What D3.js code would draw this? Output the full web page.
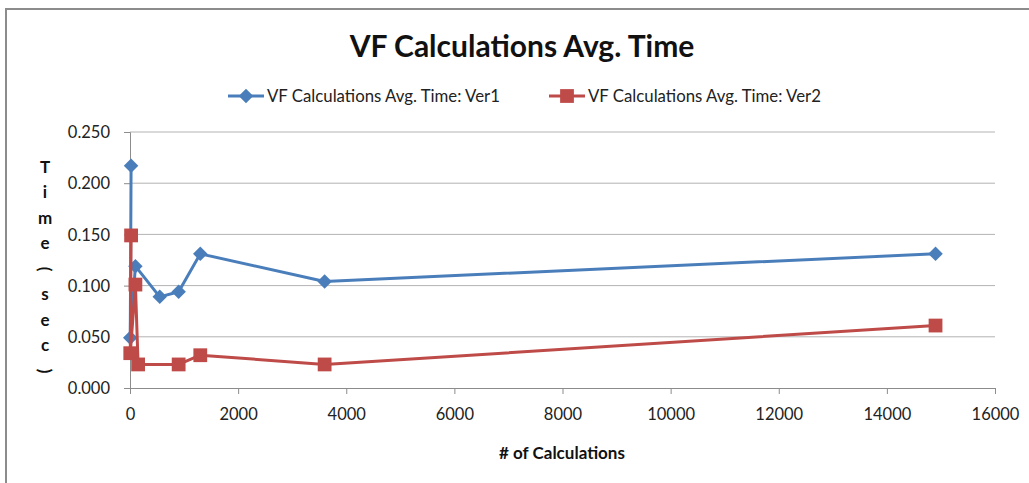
<!DOCTYPE html>
<html>
<head>
<meta charset="utf-8">
<script src="https://cdn.jsdelivr.net/npm/d3@7"></script>
<style>
  body { margin: 0; background: #fff; }
  text { font-family: Lato, "Liberation Sans", sans-serif; }
</style>
</head>
<body>
<div id="chart"></div>
<script>
// chart data
const seriesNames = ["VF Calculations Avg. Time: Ver1", "VF Calculations Avg. Time: Ver2"];
const ver1_calcs = [20, 5, 100, 550, 900, 1300, 3600, 14900];
const ver1_time  = [0.217, 0.049, 0.119, 0.089, 0.094, 0.131, 0.104, 0.131];
const ver2_calcs = [20, 5, 100, 150, 900, 1300, 3600, 14900];
const ver2_time  = [0.149, 0.034, 0.101, 0.023, 0.023, 0.032, 0.023, 0.061];
const xTicks = [0, 2000, 4000, 6000, 8000, 10000, 12000, 14000, 16000];
const yTicks = [0, 0.05, 0.10, 0.15, 0.20, 0.25];
const yTitle = "Time(sec)";

const WIDTH = 1029, HEIGHT = 483;
const margin = {top: 132, right: 34, bottom: 95, left: 130};
const colors = ["#4a7ebb", "#be4b48"];

let svg = d3.select("#chart")
    .append("svg")
    .attr("width", WIDTH)
    .attr("height", HEIGHT);

// outer chart border (cropped at right/bottom like the reference)
svg.append("path")
    .attr("d", `M6,${HEIGHT + 5} L6,9 L${WIDTH + 5},9`)
    .attr("fill", "none")
    .attr("stroke", "#8c8c8c")
    .attr("stroke-width", 2);

let plotW = WIDTH - margin.left - margin.right;
let plotH = HEIGHT - margin.top - margin.bottom;

let x = d3.scaleLinear().domain([0, 16000]).range([0, plotW]);
let y = d3.scaleLinear().domain([0, 0.25]).range([plotH, 0]);

let g = svg.append("g")
    .attr("transform", `translate(${margin.left},${margin.top})`);

// gridlines
g.append("g")
    .selectAll("line")
    .data(yTicks.filter(d => d > 0))
    .enter().append("line")
    .attr("x1", 0).attr("x2", plotW)
    .attr("y1", d => y(d)).attr("y2", d => y(d))
    .attr("stroke", "#b3b3b3")
    .attr("stroke-width", 1);

let yAxis = g.append("g")
    .call(d3.axisLeft(y).tickValues(yTicks).tickFormat(d3.format(".3f")).tickSize(6).tickPadding(14));

let xAxis = g.append("g")
    .attr("transform", `translate(0,${plotH})`)
    .call(d3.axisBottom(x).tickValues(xTicks).tickFormat(d3.format("d")).tickSize(6).tickPadding(14));

[yAxis, xAxis].forEach(a => {
    a.select(".domain").attr("stroke", "#8c8c8c");
    a.selectAll(".tick line").attr("stroke", "#8c8c8c");
    a.selectAll(".tick text")
        .style("font-family", "Lato, sans-serif")
        .style("font-size", "16.5px")
        .attr("fill", "#222");
});
yAxis.selectAll(".tick text").attr("dy", "0.35em");

// lines + markers (diamond = square turned 45deg, like excel)
let series = [
    {calcs: ver1_calcs, time: ver1_time, color: colors[0], shape: d3.symbolSquare, size: 105, rot: 45},
    {calcs: ver2_calcs, time: ver2_time, color: colors[1], shape: d3.symbolSquare, size: 190, rot: 0}
];

let line = d3.line()
    .x(d => x(d[0]))
    .y(d => y(d[1]));

series.forEach(s => {
    let pts = s.calcs.map((c, i) => [c, s.time[i]]);
    g.append("path")
        .datum(pts)
        .attr("fill", "none")
        .attr("stroke", s.color)
        .attr("stroke-width", 3)
        .attr("stroke-linejoin", "round")
        .attr("d", line);
    g.selectAll(null)
        .data(pts)
        .enter().append("path")
        .attr("transform", d => `translate(${x(d[0])},${y(d[1])}) rotate(${s.rot})`)
        .attr("d", d3.symbol().type(s.shape).size(s.size))
        .attr("fill", s.color);
});

// title
svg.append("text")
    .attr("x", 522)
    .attr("y", 57)
    .style("text-anchor", "middle")
    .style("font-size", "30px")
    .style("font-weight", "bold")
    .attr("fill", "#111")
    .text("VF Calculations Avg. Time");

// legend
let legendX = [228, 549];
series.forEach((s, i) => {
    let lg = svg.append("g").attr("transform", `translate(${legendX[i]},96)`);
    lg.append("line")
        .attr("x1", 0).attr("x2", 36)
        .attr("stroke", s.color).attr("stroke-width", 3);
    lg.append("path")
        .attr("transform", `translate(18,0) rotate(${s.rot})`)
        .attr("d", d3.symbol().type(s.shape).size(s.size))
        .attr("fill", s.color);
    lg.append("text")
        .attr("x", 39)
        .attr("dy", "0.35em")
        .style("font-size", "16.8px")
        .attr("fill", "#222")
        .text(seriesNames[i]);
});

// y title: stacked letters, parens rotated
let letters = yTitle.split("");
svg.append("g")
    .selectAll("text")
    .data(letters)
    .enter().append("text")
    .attr("transform", (d, i) => {
        let yy = 167 + i * 25.5;
        return (d === "(" || d === ")") ? `translate(45,${yy}) rotate(90)` : `translate(45,${yy})`;
    })
    .attr("dy", "0.35em")
    .style("text-anchor", "middle")
    .style("font-size", "17px")
    .style("font-weight", "bold")
    .attr("fill", "#111")
    .text(d => d);

// x title
svg.append("text")
    .attr("x", 562)
    .attr("y", 459)
    .style("text-anchor", "middle")
    .style("font-size", "17px")
    .style("font-weight", "bold")
    .attr("fill", "#111")
    .text("# of Calculations");
</script>
</body>
</html>
